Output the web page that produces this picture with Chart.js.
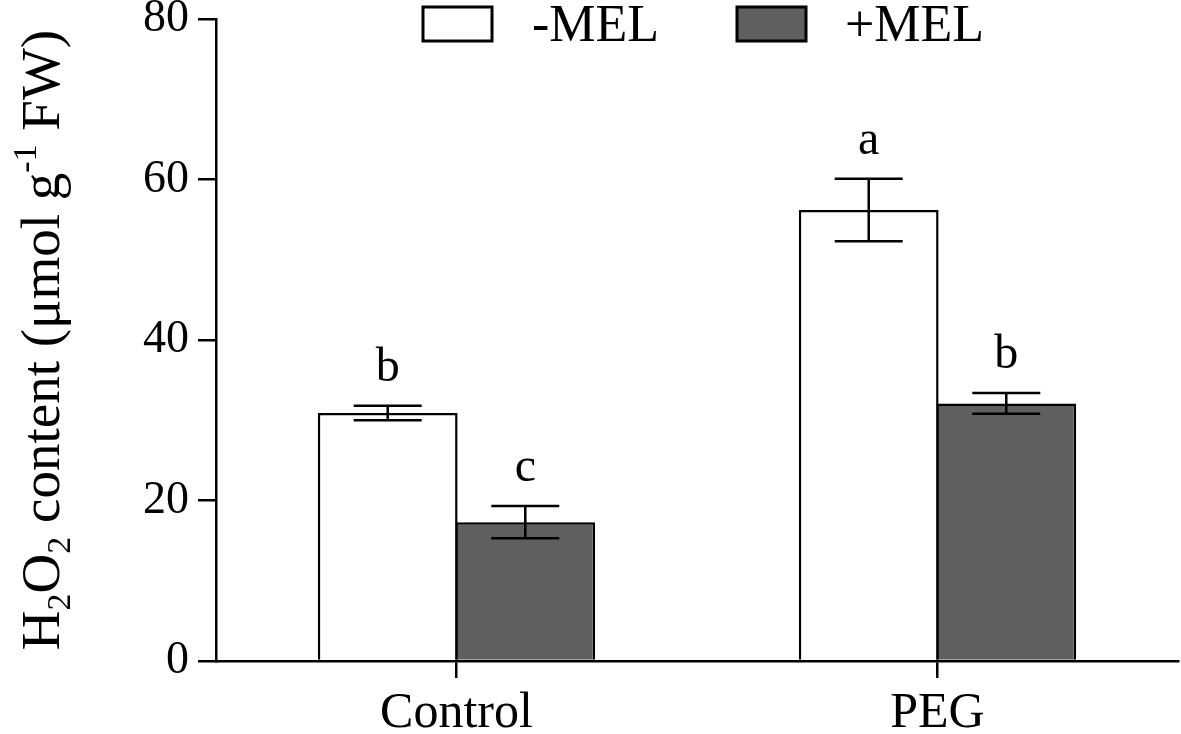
<!DOCTYPE html>
<html>
<head>
<meta charset="utf-8">
<script src="https://cdn.jsdelivr.net/npm/chart.js@4.4.1/dist/chart.umd.min.js"></script>
<style>
html,body{margin:0;padding:0;background:#fff;}
#wrap{width:1181px;height:734px;position:relative;}
</style>
</head>
<body>
<div id="wrap"><canvas id="c"></canvas></div>
<script>
const categories = ['Control', 'PEG'];
const seriesNames = ['-MEL', '+MEL'];
const minusMEL = [30.9, 56.2];
const plusMEL = [17.3, 32.1];
const minusErr = [0.9, 3.9];
const plusErr = [2.0, 1.3];
const minusLetters = ['b', 'a'];
const plusLetters = ['c', 'b'];
const yTickValues = [0, 20, 40, 60, 80];

const FONT = "'Liberation Serif', 'Times New Roman', serif";
const DARK = '#5f5f5f';

const errData = [minusErr, plusErr];
const letterData = [minusLetters, plusLetters];

const extras = {
  id: 'extras',
  afterDatasetsDraw(chart) {
    const ctx = chart.ctx;
    const y = chart.scales.y;
    ctx.save();
    chart.data.datasets.forEach((ds, di) => {
      const meta = chart.getDatasetMeta(di);
      meta.data.forEach((bar, i) => {
        const v = ds.data[i];
        const e = errData[di][i];
        const x = bar.x;
        const yt = y.getPixelForValue(v + e);
        const yb = y.getPixelForValue(v - e);
        const hw = 34;
        ctx.strokeStyle = '#000';
        ctx.lineWidth = 2.5;
        ctx.beginPath();
        ctx.moveTo(x, yt); ctx.lineTo(x, yb);
        ctx.moveTo(x - hw, yt); ctx.lineTo(x + hw, yt);
        ctx.moveTo(x - hw, yb); ctx.lineTo(x + hw, yb);
        ctx.stroke();
        ctx.fillStyle = '#000';
        ctx.font = '48px ' + FONT;
        ctx.textAlign = 'center';
        ctx.textBaseline = 'alphabetic';
        ctx.fillText(letterData[di][i], x, yt - 25);
      });
    });
    ctx.restore();
  },
  afterDraw(chart) {
    const ctx = chart.ctx;
    ctx.save();
    // legend
    const items = [
      {box: 423, text: 532, fill: '#ffffff'},
      {box: 737, text: 845, fill: DARK}
    ];
    items.forEach((it, i) => {
      ctx.fillStyle = it.fill;
      ctx.fillRect(it.box, 7, 69, 34);
      ctx.strokeStyle = '#000';
      ctx.lineWidth = 3;
      ctx.strokeRect(it.box, 7, 69, 34);
      ctx.fillStyle = '#000';
      ctx.font = '52px ' + FONT;
      ctx.textAlign = 'left';
      ctx.textBaseline = 'alphabetic';
      ctx.fillText(seriesNames[i], it.text, 41);
    });
    // y title with sub/superscripts
    const area = chart.chartArea;
    const fs = 55;
    const segs = [
      {t: 'H', k: 0}, {t: '2', k: 1}, {t: 'O', k: 0}, {t: '2', k: 1},
      {t: ' content (μmol g', k: 0}, {t: '-1', k: 2}, {t: ' FW)', k: 0}
    ];
    const fontFor = k => (k === 0 ? fs : Math.round(fs * 0.62)) + 'px ' + FONT;
    let total = 0;
    segs.forEach(s => { ctx.font = fontFor(s.k); s.w = ctx.measureText(s.t).width; total += s.w; });
    ctx.translate(59, (area.top + area.bottom) / 2);
    ctx.rotate(-Math.PI / 2);
    let cx = -total / 2;
    ctx.fillStyle = '#000';
    ctx.textAlign = 'left';
    ctx.textBaseline = 'alphabetic';
    segs.forEach(s => {
      ctx.font = fontFor(s.k);
      const dy = s.k === 1 ? fs * 0.2 : (s.k === 2 ? -fs * 0.42 : 0);
      ctx.fillText(s.t, cx, dy);
      cx += s.w;
    });
    ctx.restore();
  }
};

new Chart(document.getElementById('c'), {
  type: 'bar',
  data: {
    labels: categories,
    datasets: [
      {label: seriesNames[0], data: minusMEL, backgroundColor: '#ffffff', borderColor: '#000', borderWidth: 2.5},
      {label: seriesNames[1], data: plusMEL, backgroundColor: DARK, borderColor: '#000', borderWidth: 2.5}
    ]
  },
  options: {
    responsive: true,
    maintainAspectRatio: false,
    animation: false,
    events: [],
    layout: {padding: {top: 19, right: 3, left: 0, bottom: 0}},
    plugins: {legend: {display: false}, tooltip: {enabled: false}, title: {display: false}},
    datasets: {bar: {barPercentage: 1.016, categoryPercentage: 0.572}},
    scales: {
      x: {
        grid: {display: true, drawOnChartArea: false, drawTicks: true, tickLength: 17, color: '#000', lineWidth: 2.5, offset: false},
        border: {display: true, color: '#000', width: 2.5},
        ticks: {color: '#000', font: {family: FONT, size: 50}, padding: 6, maxRotation: 0},
        afterFit(s) { s.height = 73; s.paddingLeft = 0; s.paddingRight = 0; }
      },
      y: {
        min: 0, max: 80,
        afterBuildTicks(s) { s.ticks = yTickValues.map(v => ({value: v})); },
        grid: {display: true, drawOnChartArea: false, drawTicks: true, tickLength: 18, color: '#000', lineWidth: 2.5},
        border: {display: true, color: '#000', width: 2.5},
        ticks: {color: '#000', font: {family: FONT, size: 46}, padding: 9},
        afterFit(s) { s.width = 216; s.paddingTop = 0; s.paddingBottom = 0; }
      }
    }
  },
  plugins: [extras]
});
</script>
</body>
</html>
